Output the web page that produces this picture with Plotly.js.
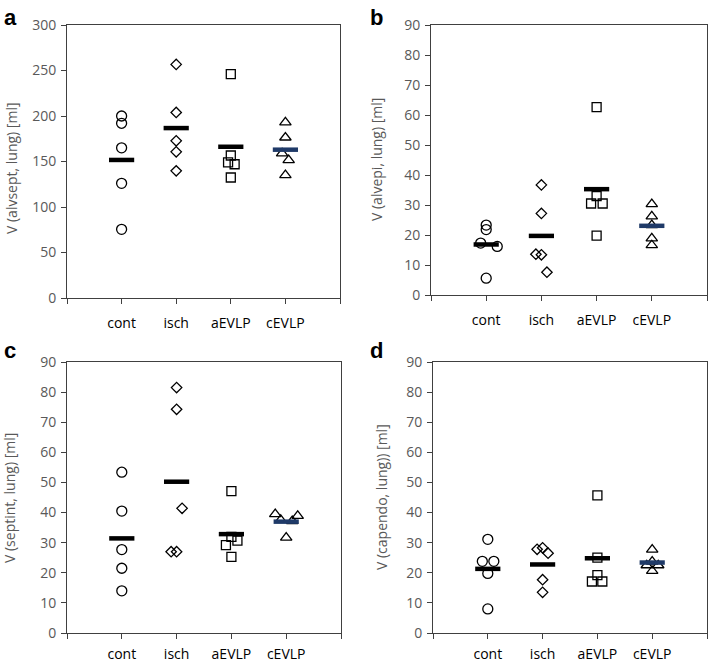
<!DOCTYPE html>
<html>
<head>
<meta charset="utf-8">
<script src="https://cdn.plot.ly/plotly-3.0.1.min.js"></script>
<style>html,body{margin:0;padding:0;background:#fff}#chart{width:709px;height:662px}</style>
</head>
<body>
<div id="chart"></div>
<script>
// ---- data ----
var groups = ['cont', 'isch', 'aEVLP', 'cEVLP'];
var panelLetters = ['a', 'b', 'c', 'd'];
var yTitles = ['V (alvsept, lung) [ml]', 'V (alvepi, lung) [ml]', 'V (septint, lung) [ml]', 'V (capendo, lung)) [ml]'];
var yMax = [300, 90, 90, 90];
var yStep = [50, 10, 10, 10];

// panel a: V(alvsept)
var a_cont  = [200, 192, 165, 126, 75.5];
var a_isch  = [256.7, 203.9, 172.7, 160.6, 139.7];
var a_aEVLP = [246, 156.6, 149, 147, 132.4];
var a_cEVLP = [193, 176.4, 159, 151.5, 135];
// panel b: V(alvepi)
var b_cont  = [23.3, 21.8, 17.3, 16.2, 5.6];
var b_isch  = [36.7, 27.2, 13.6, 13.4, 7.6];
var b_aEVLP = [62.6, 33, 30.5, 30.5, 19.8];
var b_cEVLP = [30.3, 26.2, 23.3, 18.9, 16.6];
// panel c: V(septint)
var c_cont  = [53.4, 40.5, 27.7, 21.5, 14.0];
var c_isch  = [81.5, 74.3, 41.4, 27.0, 27.0];
var c_aEVLP = [47.1, 31.9, 30.7, 29.2, 25.3];
var c_cEVLP = [39.5, 38.9, 37.6, 37.2, 31.7];
// panel d: V(capendo)
var d_cont  = [31.1, 23.8, 23.8, 19.8, 8.0];
var d_isch  = [27.8, 28.3, 26.5, 17.7, 13.5];
var d_aEVLP = [45.7, 25.0, 19.2, 17.1, 17.1];
var d_cEVLP = [27.7, 23.7, 22.5, 22.5, 20.6];

// horizontal spread of overlapping points (category units)
var a_jit = [[0,0,0,0,0],[0,0,0,0,0],[0,0,-0.05,0.07,0],[0,0,-0.06,0.06,0]];
var b_jit = [[0,0,-0.10,0.20,0],[0,0,-0.10,0,0.10],[0,0,-0.10,0.11,0],[0,0,0,0,0]];
var c_jit = [[0,0,0,0,0],[0,0,0.10,-0.10,0],[0,0,0.11,-0.10,0],[-0.20,0.21,-0.10,0.11,0]];
var d_jit = [[0,-0.10,0.11,0,0],[-0.10,0,0.10,0,0],[0,0,0,-0.10,0.09],[0,0,-0.10,0.11,0]];

var panels = [
  {vals:[a_cont,a_isch,a_aEVLP,a_cEVLP], jit:a_jit},
  {vals:[b_cont,b_isch,b_aEVLP,b_cEVLP], jit:b_jit},
  {vals:[c_cont,c_isch,c_aEVLP,c_cEVLP], jit:c_jit},
  {vals:[d_cont,d_isch,d_aEVLP,d_cEVLP], jit:d_jit}
];

// ---- styling ----
var symbols = ['circle-open', 'diamond-open', 'square-open', 'triangle-up-open'];
var msizes = [10, 8, 9, 10];
var meanColors = ['#000000', '#000000', '#000000', '#1f3a68'];
var FONT = 'Open Sans, Liberation Sans, sans-serif';
var FS = 14;
var W = 709, H = 662;
var boxes = [ // [left, right, top, bottom] in px
  [67, 340, 25, 298],
  [431, 707, 25, 295],
  [67, 341, 362, 633],
  [433, 707, 362, 633]
];
var titlePos = [[11, 168], [377, 159], [10, 498], [381, 497]];
var letterPos = [[2, 3], [368, 3], [2, 336], [368, 336]];
var standoffs = [7, 7, 3, 3];

var traces = [];
var layout = {
  width: W, height: H,
  margin: {l: 0, r: 0, t: 0, b: 0},
  paper_bgcolor: '#fff', plot_bgcolor: '#fff',
  showlegend: false,
  font: {family: FONT, size: FS, color: '#595959'},
  annotations: []
};

panels.forEach(function(p, pi) {
  var xa = 'x' + (pi === 0 ? '' : pi + 1);
  var ya = 'y' + (pi === 0 ? '' : pi + 1);
  p.vals.forEach(function(v, gi) {
    var xs = v.map(function(_, k) { return gi + p.jit[gi][k]; });
    traces.push({
      type: 'scatter', mode: 'markers', x: xs, y: v, xaxis: xa, yaxis: ya,
      marker: {symbol: symbols[gi], size: msizes[gi], color: '#000', line: {color: '#000', width: 1.3}},
      hoverinfo: 'y'
    });
  });
  // mean bars
  p.vals.forEach(function(v, gi) {
    var m = v.reduce(function(s, q) { return s + q; }, 0) / v.length;
    traces.push({
      type: 'scatter', mode: 'markers', x: [gi], y: [m], xaxis: xa, yaxis: ya,
      marker: {symbol: 'line-ew', size: 18, color: meanColors[gi], line: {color: meanColors[gi], width: 4.5}},
      hoverinfo: 'y'
    });
  });
  var b = boxes[pi];
  var xkey = 'xaxis' + (pi === 0 ? '' : pi + 1);
  var ykey = 'yaxis' + (pi === 0 ? '' : pi + 1);
  var tv = [], tt = [];
  for (var t = -1; t <= groups.length; t++) { tv.push(t); tt.push(t >= 0 && t < groups.length ? groups[t] : ''); }
  layout[xkey] = {
    domain: [b[0] / W, b[1] / W], anchor: ya,
    range: [-1, groups.length], tickmode: 'array', tickvals: tv, ticktext: tt,
    showgrid: false, zeroline: false, showline: true, mirror: true, linecolor: '#404040', linewidth: 1,
    ticks: 'outside', ticklen: 5, tickcolor: '#404040', ticklabelstandoff: standoffs[pi],
    tickfont: {family: FONT, size: FS, color: '#000'}, fixedrange: true
  };
  var yt = [];
  for (var q = 0; q <= yMax[pi]; q += yStep[pi]) yt.push(q);
  layout[ykey] = {
    domain: [(H - b[3]) / H, (H - b[2]) / H], anchor: xa,
    range: [0, yMax[pi]], tickmode: 'array', tickvals: yt,
    showgrid: false, zeroline: false, showline: true, mirror: true, linecolor: '#404040', linewidth: 1,
    ticks: 'outside', ticklen: 5, tickcolor: '#404040', ticklabelstandoff: 2,
    tickfont: {family: FONT, size: FS, color: '#595959'},
    fixedrange: true
  };
  layout.annotations.push({
    text: yTitles[pi], xref: 'paper', yref: 'paper',
    x: titlePos[pi][0] / W, y: 1 - titlePos[pi][1] / H, xanchor: 'center', yanchor: 'middle',
    textangle: -90, showarrow: false, font: {family: FONT, size: FS, color: '#595959'}
  });
  layout.annotations.push({
    text: '<b>' + panelLetters[pi] + '</b>', xref: 'paper', yref: 'paper',
    x: letterPos[pi][0] / W, y: 1 - letterPos[pi][1] / H, xanchor: 'left', yanchor: 'top',
    showarrow: false, font: {family: 'Liberation Sans, Arial, sans-serif', size: 22, color: '#000'}
  });
});

Plotly.newPlot('chart', traces, layout, {displayModeBar: false, staticPlot: true});
</script>
</body>
</html>
